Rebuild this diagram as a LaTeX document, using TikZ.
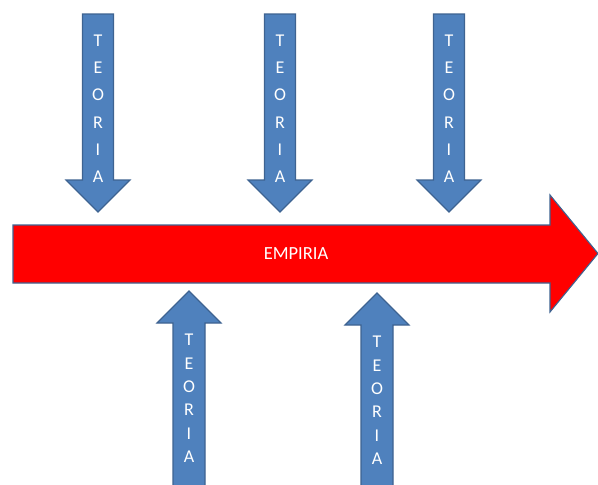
\documentclass[tikz,border=0pt]{standalone}
\usepackage{fontspec}
\setmainfont{Carlito}
\begin{document}
\begin{tikzpicture}[x=1pt,y=-1pt,
  shapeline/.style={draw=outlineblue,line width=1.1pt,line join=miter},
  bluearrow/.style={shapeline,fill=shapeblue},
  redarrow/.style={shapeline,fill=arrowred},
  letter/.style={text=white,font=\fontsize{18}{18}\selectfont,inner sep=0pt},
  label/.style={text=white,font=\fontsize{18.5}{20}\selectfont,inner sep=0pt}]
\definecolor{shapeblue}{HTML}{4F81BD}
\definecolor{outlineblue}{HTML}{3E6391}
\definecolor{arrowred}{HTML}{FF0000}
\useasboundingbox (0,0) rectangle (598,485);

% main horizontal arrow
\draw[redarrow] (13,225) -- (550,225) -- (550,195) -- (598,253.5) -- (550,312)
  -- (550,283) -- (13,283) -- cycle;
\node[label] (empiria) at (296,254) {EMPIRIA};

% downward arrows above the main arrow
\foreach \cx/\nm in {98/da,280/db,449/dc}{
  \draw[bluearrow] (\cx-15.5,14) -- (\cx+15.5,14) -- (\cx+15.5,180) -- (\cx+32,180)
    -- (\cx,212) -- (\cx-32,180) -- (\cx-15.5,180) -- cycle;
  \foreach \ch [count=\i] in {T,E,O,R,I,A}
    \node[letter] (\nm\i) at (\cx,{40.7+27.2*(\i-1)}) {\ch};
}

% upward arrows below the main arrow
\foreach \cx/\ty/\nm in {189/291/ua,377/293/ub}{
  \draw[bluearrow] (\cx-16,487) -- (\cx-16,\ty+32) -- (\cx-32,\ty+32) -- (\cx,\ty)
    -- (\cx+32,\ty+32) -- (\cx+16,\ty+32) -- (\cx+16,487);
  \foreach \ch [count=\i] in {T,E,O,R,I,A}
    \node[letter] (\nm\i) at (\cx,{\ty+49+23.4*(\i-1)}) {\ch};
}
\end{tikzpicture}
\end{document}
